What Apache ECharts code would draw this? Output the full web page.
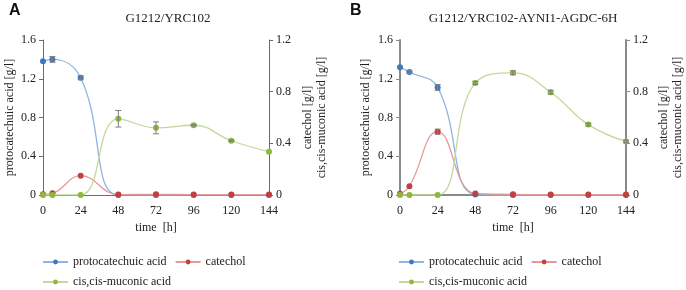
<!DOCTYPE html>
<html>
<head>
<meta charset="utf-8">
<script src="https://cdn.jsdelivr.net/npm/echarts@6/dist/echarts.min.js"></script>
<style>
  html, body { margin: 0; padding: 0; background: #fff; }
  #chart { width: 686px; height: 290px; }
</style>
</head>
<body>
<div id="chart"></div>
<script>
// sampling times [h]
var time = [0, 6, 24, 48, 72, 96, 120, 144];

// panel A: G1212/YRC102
var pcaA = [1.38, 1.40, 1.21, 0, 0, 0, 0, 0];
var pcaErrA = [0, 0.03, 0.02, 0, 0, 0, 0, 0];
var catA = [0.005, 0.013, 0.15, 0.003, 0.005, 0.003, 0.003, 0.003];
var catErrA = [0, 0, 0, 0, 0, 0, 0, 0];
var cisA = [0, 0, 0, 0.59, 0.52, 0.54, 0.42, 0.335];
var cisErrA = [0, 0, 0, 0.064, 0.046, 0.005, 0.005, 0];

// panel B: G1212/YRC102-AYNI1-AGDC-6H
var pcaB = [1.32, 1.27, 1.11, 0.005, 0, 0, 0, 0];
var pcaErrB = [0, 0.015, 0.03, 0, 0, 0, 0, 0];
var catB = [0.01, 0.068, 0.49, 0.012, 0.005, 0.003, 0.003, 0.003];
var catErrB = [0, 0, 0.02, 0, 0, 0, 0, 0];
var cisB = [0, 0, 0, 0.868, 0.946, 0.796, 0.545, 0.415];
var cisErrB = [0, 0, 0, 0.012, 0.015, 0.015, 0.01, 0.01];

var names = ['protocatechuic acid', 'catechol', 'cis,cis-muconic acid'];
var markColors = ['#3f78c0', '#c0413d', '#8cb83c'];
var lineColors = ['#8eb4e3', '#e6999a', '#c4d89c'];
var font = '"Liberation Serif", "Times New Roman", serif';

function pairs(vals) {
    return time.map(function (t, i) { return [t, vals[i]]; });
}
function errPairs(vals, errs) {
    return time.map(function (t, i) { return [t, vals[i], errs[i]]; });
}

function lineSeries(k, vals, xi, yi) {
    return {
        name: names[k],
        type: 'line',
        xAxisIndex: xi,
        yAxisIndex: yi,
        data: pairs(vals),
        smooth: 0.45,
        symbol: 'circle',
        symbolSize: 6,
        itemStyle: { color: markColors[k] },
        lineStyle: { color: lineColors[k], width: 1.3 },
        z: 3 + k
    };
}

function errSeries(vals, errs, xi, yi) {
    return {
        type: 'custom',
        xAxisIndex: xi,
        yAxisIndex: yi,
        data: errPairs(vals, errs),
        z: 10,
        silent: true,
        renderItem: function (params, api) {
            var x = api.value(0), y = api.value(1), e = api.value(2);
            if (!e) return;
            var top = api.coord([x, y + e]);
            var bot = api.coord([x, y - e]);
            var st = { stroke: '#7f7f7f', lineWidth: 1 };
            return {
                type: 'group',
                children: [
                    { type: 'line', shape: { x1: top[0], y1: top[1], x2: bot[0], y2: bot[1] }, style: st },
                    { type: 'line', shape: { x1: top[0] - 3, y1: top[1], x2: top[0] + 3, y2: top[1] }, style: st },
                    { type: 'line', shape: { x1: bot[0] - 3, y1: bot[1], x2: bot[0] + 3, y2: bot[1] }, style: st }
                ]
            };
        }
    };
}

function xAxis(gi, axisColor, axisWidth) {
    return {
        type: 'value', gridIndex: gi, min: 0, max: 144, interval: 24,
        name: 'time  [h]', nameLocation: 'middle', nameGap: 25,
        nameTextStyle: { fontFamily: font, fontSize: 12, color: '#222' },
        axisLine: { lineStyle: { color: axisColor, width: axisWidth } },
        axisTick: { show: false },
        axisLabel: { margin: 10, fontFamily: font, fontSize: 12, color: '#222' },
        splitLine: { show: false }
    };
}

function yAxis(gi, pos, max, interval, name, nameGap, axisColor, axisWidth) {
    return {
        type: 'value', gridIndex: gi, position: pos, min: 0, max: max, interval: interval,
        name: name, nameLocation: 'middle', nameRotate: 90, nameGap: nameGap,
        nameTextStyle: { fontFamily: font, fontSize: 12, color: '#222', lineHeight: 14 },
        axisLine: { show: true, lineStyle: { color: axisColor, width: axisWidth } },
        axisTick: { show: true, inside: false, length: 4, lineStyle: { color: axisColor } },
        axisLabel: {
            margin: 7, fontFamily: font, fontSize: 12, color: '#222',
            formatter: function (v) { return v === 0 ? '0' : v.toFixed(1); }
        },
        splitLine: { show: false }
    };
}

function legend(left, top, data) {
    return {
        left: left, top: top, orient: 'horizontal', data: data,
        itemWidth: 25, itemHeight: 6, itemGap: 8,
        selectedMode: false,
        textStyle: { fontFamily: font, fontSize: 12, color: '#222' }
    };
}

var chart = echarts.init(document.getElementById('chart'));

var option = {
    animation: false,
    backgroundColor: '#fff',
    textStyle: { fontFamily: font },
    title: [
        { text: 'G1212/YRC102', left: 163, top: 7, textAlign: 'center',
          textStyle: { fontFamily: font, fontSize: 13, fontWeight: 'normal', color: '#222' } },
        { text: 'G1212/YRC102-AYNI1-AGDC-6H', left: 518, top: 7, textAlign: 'center',
          textStyle: { fontFamily: font, fontSize: 13, fontWeight: 'normal', color: '#222' } }
    ],
    graphic: [
        { type: 'text', left: 9, top: 3,
          style: { text: 'A', font: 'bold 16px "Liberation Sans"', fill: '#111' } },
        { type: 'text', left: 350, top: 3,
          style: { text: 'B', font: 'bold 16px "Liberation Sans"', fill: '#111' } }
    ],
    legend: [
        legend(37, 251, ['protocatechuic acid', 'catechol']),
        legend(37, 271, ['cis,cis-muconic acid']),
        legend(393, 251, ['protocatechuic acid', 'catechol']),
        legend(393, 271, ['cis,cis-muconic acid'])
    ],
    grid: [
        { left: 43, right: 417, top: 40, bottom: 95 },
        { left: 400, right: 60, top: 40, bottom: 95 }
    ],
    xAxis: [
        xAxis(0, '#6b6b6b', 1),
        xAxis(1, '#8a8a8a', 2)
    ],
    yAxis: [
        yAxis(0, 'left', 1.6, 0.4, 'protocatechuic acid [g/l]', 26, '#6b6b6b', 1),
        yAxis(0, 'right', 1.2, 0.4, 'catechol [g/l]\ncis,cis-muconic acid [g/l]', 32, '#6b6b6b', 1),
        yAxis(1, 'left', 1.6, 0.4, 'protocatechuic acid [g/l]', 27, '#8a8a8a', 2),
        yAxis(1, 'right', 1.2, 0.4, 'catechol [g/l]\ncis,cis-muconic acid [g/l]', 31, '#8a8a8a', 2)
    ],
    series: [
        lineSeries(0, pcaA, 0, 0),
        lineSeries(1, catA, 0, 1),
        lineSeries(2, cisA, 0, 1),
        errSeries(pcaA, pcaErrA, 0, 0),
        errSeries(catA, catErrA, 0, 1),
        errSeries(cisA, cisErrA, 0, 1),
        lineSeries(0, pcaB, 1, 2),
        lineSeries(1, catB, 1, 3),
        lineSeries(2, cisB, 1, 3),
        errSeries(pcaB, pcaErrB, 1, 2),
        errSeries(catB, catErrB, 1, 3),
        errSeries(cisB, cisErrB, 1, 3)
    ]
};

chart.setOption(option);
</script>
</body>
</html>
